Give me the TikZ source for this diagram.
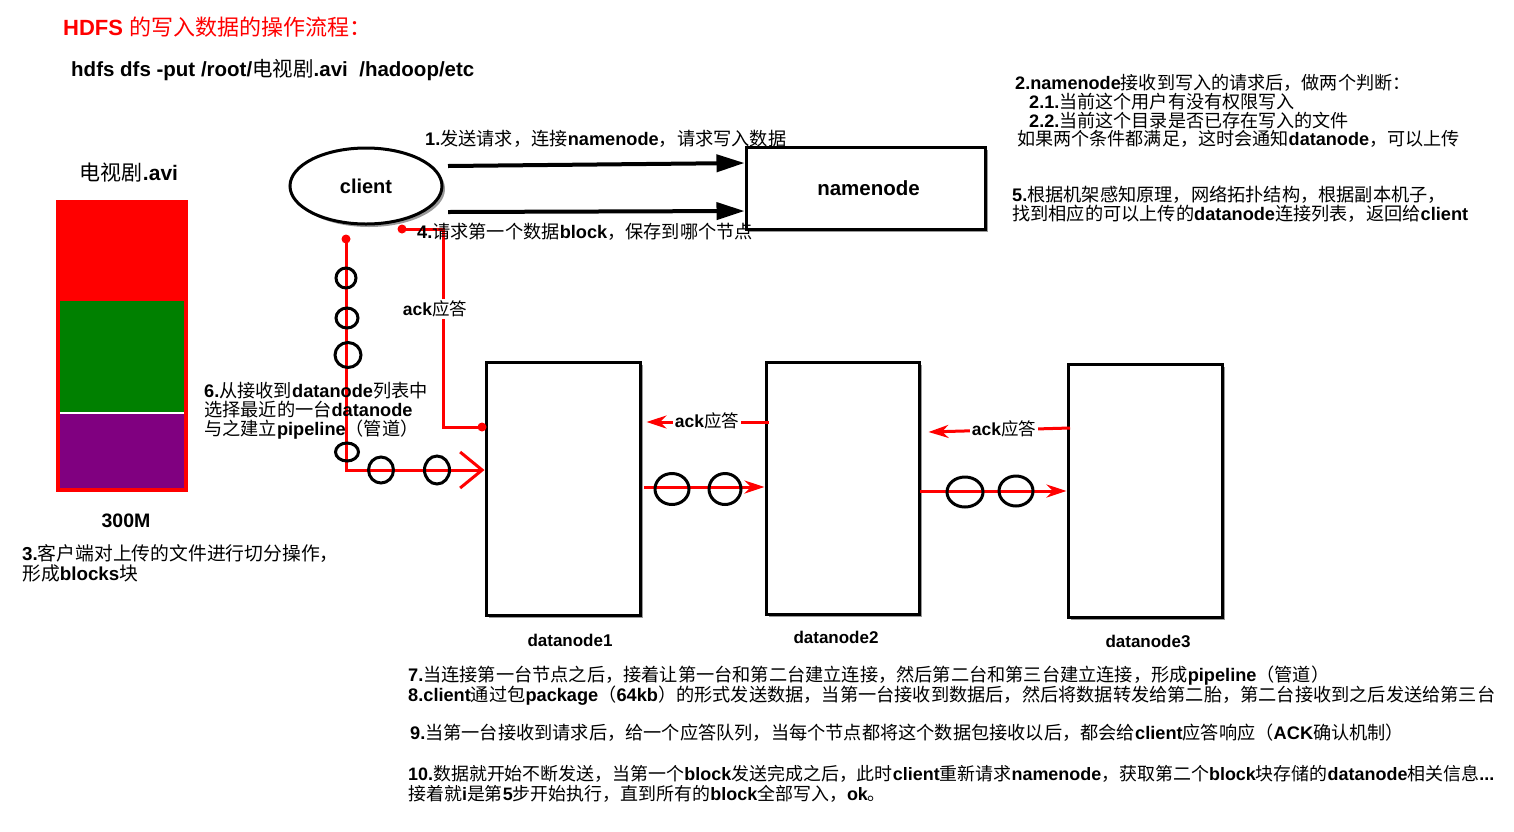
\documentclass[tikz,border=0pt]{standalone}
\usepackage{fontspec}
\setmainfont{Liberation Sans}
\newfontfamily\cjkfam{Noto Sans CJK SC}
\usetikzlibrary{arrows.meta,shadows,shapes.geometric}
% automatic switch between Latin (bold Arial-like) and CJK (regular)
\newXeTeXintercharclass\cjkcls
\newcount\mycnt
\def\setcjkrange#1#2{\mycnt=#1\relax\loop\XeTeXcharclass\mycnt=\cjkcls\advance\mycnt by 1\relax\ifnum\mycnt<#2\relax\repeat}
\setcjkrange{"3000}{"3040}
\setcjkrange{"4E00}{"A000}
\setcjkrange{"FF00}{"FFF0}
\newcommand\cjkon{\cjkfam\mdseries}
\newcommand\cjkoff{\normalfont\bfseries}
\XeTeXinterchartoks 0 \cjkcls = {\cjkon}
\XeTeXinterchartoks 4095 \cjkcls = {\cjkon}
\XeTeXinterchartoks \cjkcls 0 = {\cjkoff}
\XeTeXinterchartoks 4095 0 = {\cjkoff}
\XeTeXinterchartokenstate=1
\begin{document}
\begin{tikzpicture}[x=1pt,y=-1pt,
  txt/.style={inner sep=0pt, anchor=west, align=left, font=\fontsize{18.2}{19}\selectfont\bfseries},
  ctxt/.style={inner sep=0pt, font=\fontsize{20}{22}\selectfont\bfseries},
  box/.style={draw=black, line width=3pt, fill=white, drop shadow={shadow xshift=3pt,shadow yshift=-3pt,opacity=.4,fill=black}},
  pkt/.style={draw=black, line width=3pt, ellipse, inner sep=0pt},
  redline/.style={draw=red, line width=3pt},
  dot/.style={circle, fill=red, inner sep=0pt, minimum size=9pt},
  ackarrow/.style={red, line width=3pt, -{Stealth[length=20pt,width=13pt]}},
  bigarrow/.style={black, line width=4pt, -{Triangle[length=28pt,width=17pt]}},
  acklabel/.style={fill=white, inner sep=1.5pt, font=\fontsize{17.5}{19}\selectfont\bfseries}
]
\useasboundingbox (0,0) rectangle (1514,831);

% titles
\node[txt, text=red, font=\fontsize{22}{24}\selectfont\bfseries] (title) at (63,27) {HDFS 的写入数据的操作流程：};
\node[txt, font=\fontsize{20.5}{22}\selectfont\bfseries] (cmd) at (71,70) {hdfs dfs -put /root/电视剧.avi\ \ /hadoop/etc};

% file bar
\node[ctxt, font=\fontsize{21}{23}\selectfont\bfseries] (fname) at (129,173) {电视剧.avi};
\fill[red] (58,202) rectangle (186,301);
\fill[green!50!black] (58,301) rectangle (186,412);
\fill[white] (58,412) rectangle (186,414);
\fill[fill={rgb,255:red,128;green,0;blue,128}] (58,414) rectangle (186,490);
\draw[red, line width=4pt] (58,202) rectangle (186,490);
\node[ctxt, font=\fontsize{19.5}{21}\selectfont\bfseries] (size) at (126,521) {300M};
\node[txt, font=\fontsize{18.8}{20}\selectfont\bfseries] (step3) at (22,563) {3.客户端对上传的文件进行切分操作，\\形成blocks块};

% client and namenode
\node[box, ellipse, minimum width=152pt, minimum height=76pt] (client) at (366,186) {};
\node[ctxt] at (client) {client};
\node[box, minimum width=239pt, minimum height=82pt] (namenode) at (865.5,188) {};
\node[ctxt, font=\fontsize{20.5}{22}\selectfont\bfseries] at ([xshift=3pt]namenode.center) {namenode};

\coordinate (a1s) at (448,166);
\coordinate (a4s) at (448,212);
\draw[bigarrow] (a1s) -- ([yshift=3pt]namenode.west |- a1s);
\draw[bigarrow] (a4s) -- ([yshift=1pt]namenode.west |- a4s);
\node[txt] (l1) at (425,139) {1.发送请求，连接namenode，请求写入数据};

% right notes
\node[txt, font=\fontsize{18.1}{18.7}\selectfont\bfseries] (step2) at (1015,111) {2.namenode接收到写入的请求后，做两个判断：\\\hspace*{14pt}2.1.当前这个用户有没有权限写入\\\hspace*{14pt}2.2.当前这个目录是否已存在写入的文件\\\hspace*{2pt}如果两个条件都满足，这时会通知datanode，可以上传};
\node[txt] (step5) at (1012,204.5) {5.根据机架感知原理，网络拓扑结构，根据副本机子，\\找到相应的可以上传的datanode连接列表，返回给client};

% datanodes
\node[box, minimum width=154pt, minimum height=253pt] (dn1) at (563,488.5) {};
\node[box, minimum width=153pt, minimum height=252pt] (dn2) at (842.5,488) {};
\node[box, minimum width=154pt, minimum height=253pt] (dn3) at (1145,490.5) {};
\node[ctxt, font=\fontsize{17}{19}\selectfont\bfseries] at (570,640) {datanode1};
\node[ctxt, font=\fontsize{17}{19}\selectfont\bfseries] at (836,637) {datanode2};
\node[ctxt, font=\fontsize{17}{19}\selectfont\bfseries] at (1148,641) {datanode3};

% ack path from datanode1 back to client
\node[dot] (ackstart) at (402,229) {};
\node[dot] (ackend) at (482,427) {};
\coordinate (ackturn) at (443,229);
\draw[redline] (ackstart.center) -- (ackturn) |- (ackend.center);
\node[acklabel] (ack1) at (435,309) {ack应答};
\node[txt] (l4) at (417,232) {4.请求第一个数据block，保存到哪个节点};

% pipeline from client to datanode1
\node[dot] (pipestart) at (346,239) {};
\coordinate (pipeturn) at (346,470);
\draw[redline, -{Straight Barb[length=22pt,width=36pt,line width=3pt]}] (pipestart.center) -- (pipeturn) -- (dn1.west |- pipeturn);
\node[pkt, minimum width=20pt, minimum height=20pt] (p1) at (346,278) {};
\node[pkt, minimum width=22pt, minimum height=20pt] (p2) at (347,318) {};
\node[pkt, minimum width=26pt, minimum height=25pt] (p3) at (348,355) {};
\node[pkt, minimum width=23pt, minimum height=18pt] (p4) at (347,452) {};
\node[pkt, minimum width=25pt, minimum height=26pt] (p5) at (381,470) {};
\node[pkt, minimum width=25pt, minimum height=28pt] (p6) at (437,470) {};
\node[txt] (step6) at (204,411) {6.从接收到datanode列表中\\选择最近的一台datanode\\与之建立pipeline（管道）};

% datanode1 -> datanode2 -> datanode3
\coordinate (d12) at (644,487);
\coordinate (d23) at (920,491);
\draw[ackarrow] (d12) -- (dn2.west |- d12);
\draw[ackarrow] (d23) -- (dn3.west |- d23);
\node[pkt, minimum width=34pt, minimum height=31pt] (p7) at (672,489) {};
\node[pkt, minimum width=32pt, minimum height=31pt] (p8) at (725,489) {};
\node[pkt, minimum width=36pt, minimum height=30pt] (p9) at (965,492) {};
\node[pkt, minimum width=34pt, minimum height=30pt] (p10) at (1016,491) {};

% ack arrows
\coordinate (k21) at (769,422);
\coordinate (k32) at (1070,428);
\draw[ackarrow] (k21) -- ([xshift=5pt]dn1.east |- k21);
\draw[ackarrow] (k32) -- ([xshift=8pt]dn2.east |- 0,432);
\node[acklabel] (ack2) at (707,421) {ack应答};
\node[acklabel] (ack3) at (1004,429) {ack应答};

% bottom notes
\node[txt] (step78) at (408,685.5) {7.当连接第一台节点之后，接着让第一台和第二台建立连接，然后第二台和第三台建立连接，形成pipeline（管道）\\8.client通过包package（64kb）的形式发送数据，当第一台接收到数据后，然后将数据转发给第二胎，第二台接收到之后发送给第三台};
\node[txt] (step9) at (410,733) {9.当第一台接收到请求后，给一个应答队列，当每个节点都将这个数据包接收以后，都会给client应答响应（ACK确认机制）};
\node[txt, font=\fontsize{17.95}{19.5}\selectfont\bfseries] (step10) at (408,784) {10.数据就开始不断发送，当第一个block发送完成之后，此时client重新请求namenode，获取第二个block块存储的datanode相关信息...\\接着就i是第5步开始执行，直到所有的block全部写入，ok。};
\end{tikzpicture}
\end{document}
